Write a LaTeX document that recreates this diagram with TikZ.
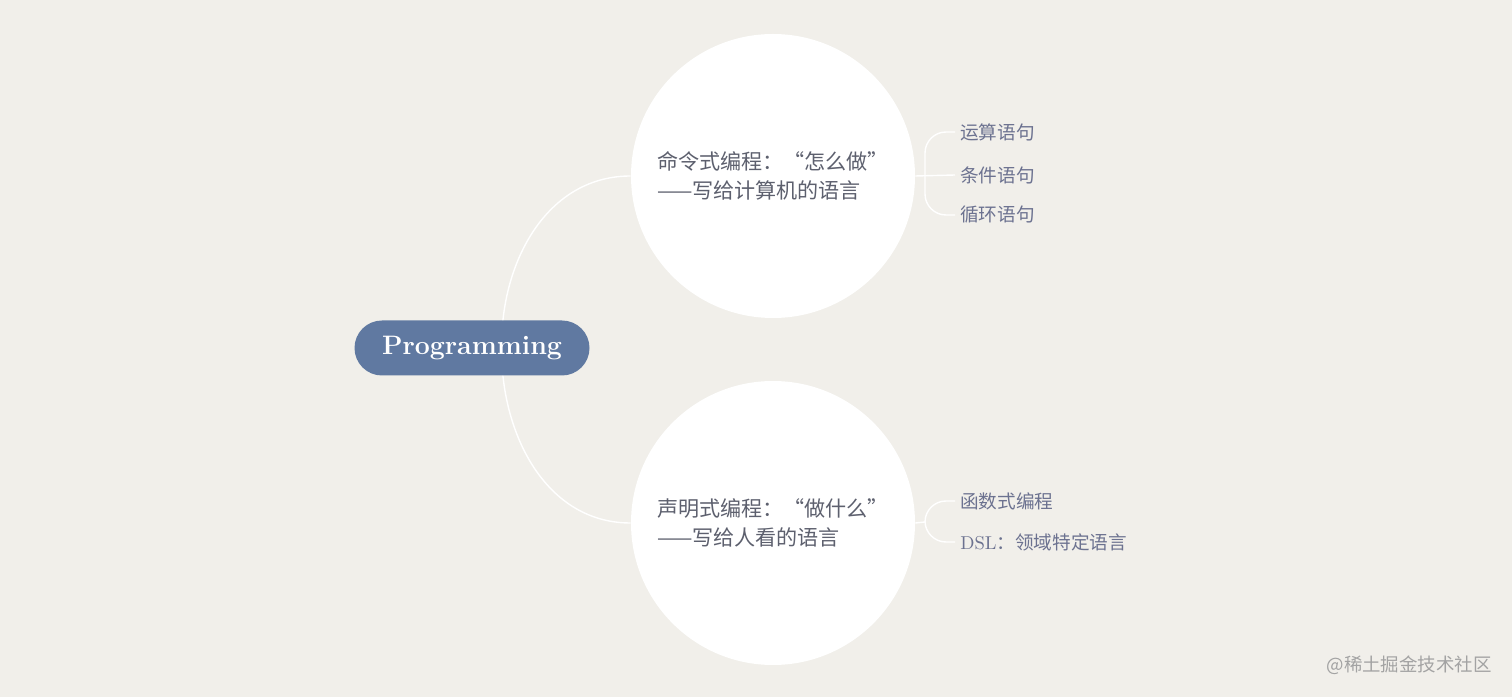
\documentclass[tikz,border=0pt]{standalone}
\usepackage{fontspec}
\newfontfamily\cjk{Noto Sans CJK SC}
\definecolor{paper}{HTML}{F1EFEA}
\definecolor{pill}{HTML}{6079A1}
\definecolor{ink}{HTML}{5D606E}
\definecolor{leafink}{HTML}{6C7290}
\definecolor{mark}{HTML}{A3A3A3}
\begin{document}
\begin{tikzpicture}[
topic/.style={fill=pill,text=white,rounded corners=0.55cm,minimum width=4.7cm,minimum height=1.1cm,font=\fontsize{15.2}{17}\selectfont\bfseries},
idea/.style={circle,fill=white,minimum size=5.68cm,inner sep=0pt,align=left,text=ink,font=\fontsize{12}{16.5}\selectfont\cjk},
leaf/.style={anchor=west,inner ysep=0pt,inner xsep=0.1cm,text=leafink,font=\fontsize{10.6}{12}\selectfont\cjk},
link/.style={white,line width=0.8pt},
fork/.style={white,line width=0.8pt,rounded corners=0.42cm}]

\fill [paper] (0,0) rectangle (30.24,13.94);
\useasboundingbox (0,0) rectangle (30.24,13.94);

\node [topic] (prog) at (9.44,6.98) {Programming};

\node [idea] (imp) at (15.46,10.42) {命令式编程：“怎么做”\\——写给计算机的语言};
\node [idea] (dec) at (15.46,3.48) {声明式编程：“做什么”\\——写给人看的语言};

% root to the two ideas
\draw [link] (prog.42) to [out=84,in=180] (imp.west);
\draw [link] (prog.-42) to [out=-84,in=180] (dec.west);

% imperative
\coordinate (impfork) at (18.5,10.42);
\node [leaf] (calc) at (19.1,11.30) {运算语句};
\node [leaf] (cond) at (19.1,10.44) {条件语句};
\node [leaf] (loop) at (19.1,9.64) {循环语句};
\draw [link] (imp.east) -- (cond.west);
\draw [fork] (impfork) |- (calc.west);
\draw [fork] (impfork) |- (loop.west);

% declarative
\coordinate (decfork) at (18.5,3.50);
\node [leaf] (func) at (19.1,3.92) {函数式编程};
\node [leaf] (dsl) at (19.1,3.10) {{\rmfamily DSL}：领域特定语言};
\draw [link] (dec.east) -- (decfork);
\draw [fork] (decfork) |- (func.west);
\draw [fork] (decfork) |- (dsl.west);

\node [anchor=east,inner sep=0pt,text=mark,font=\fontsize{10.5}{12}\selectfont\cjk] (wm) at (29.84,0.64) {@稀土掘金技术社区};
\end{tikzpicture}
\end{document}
